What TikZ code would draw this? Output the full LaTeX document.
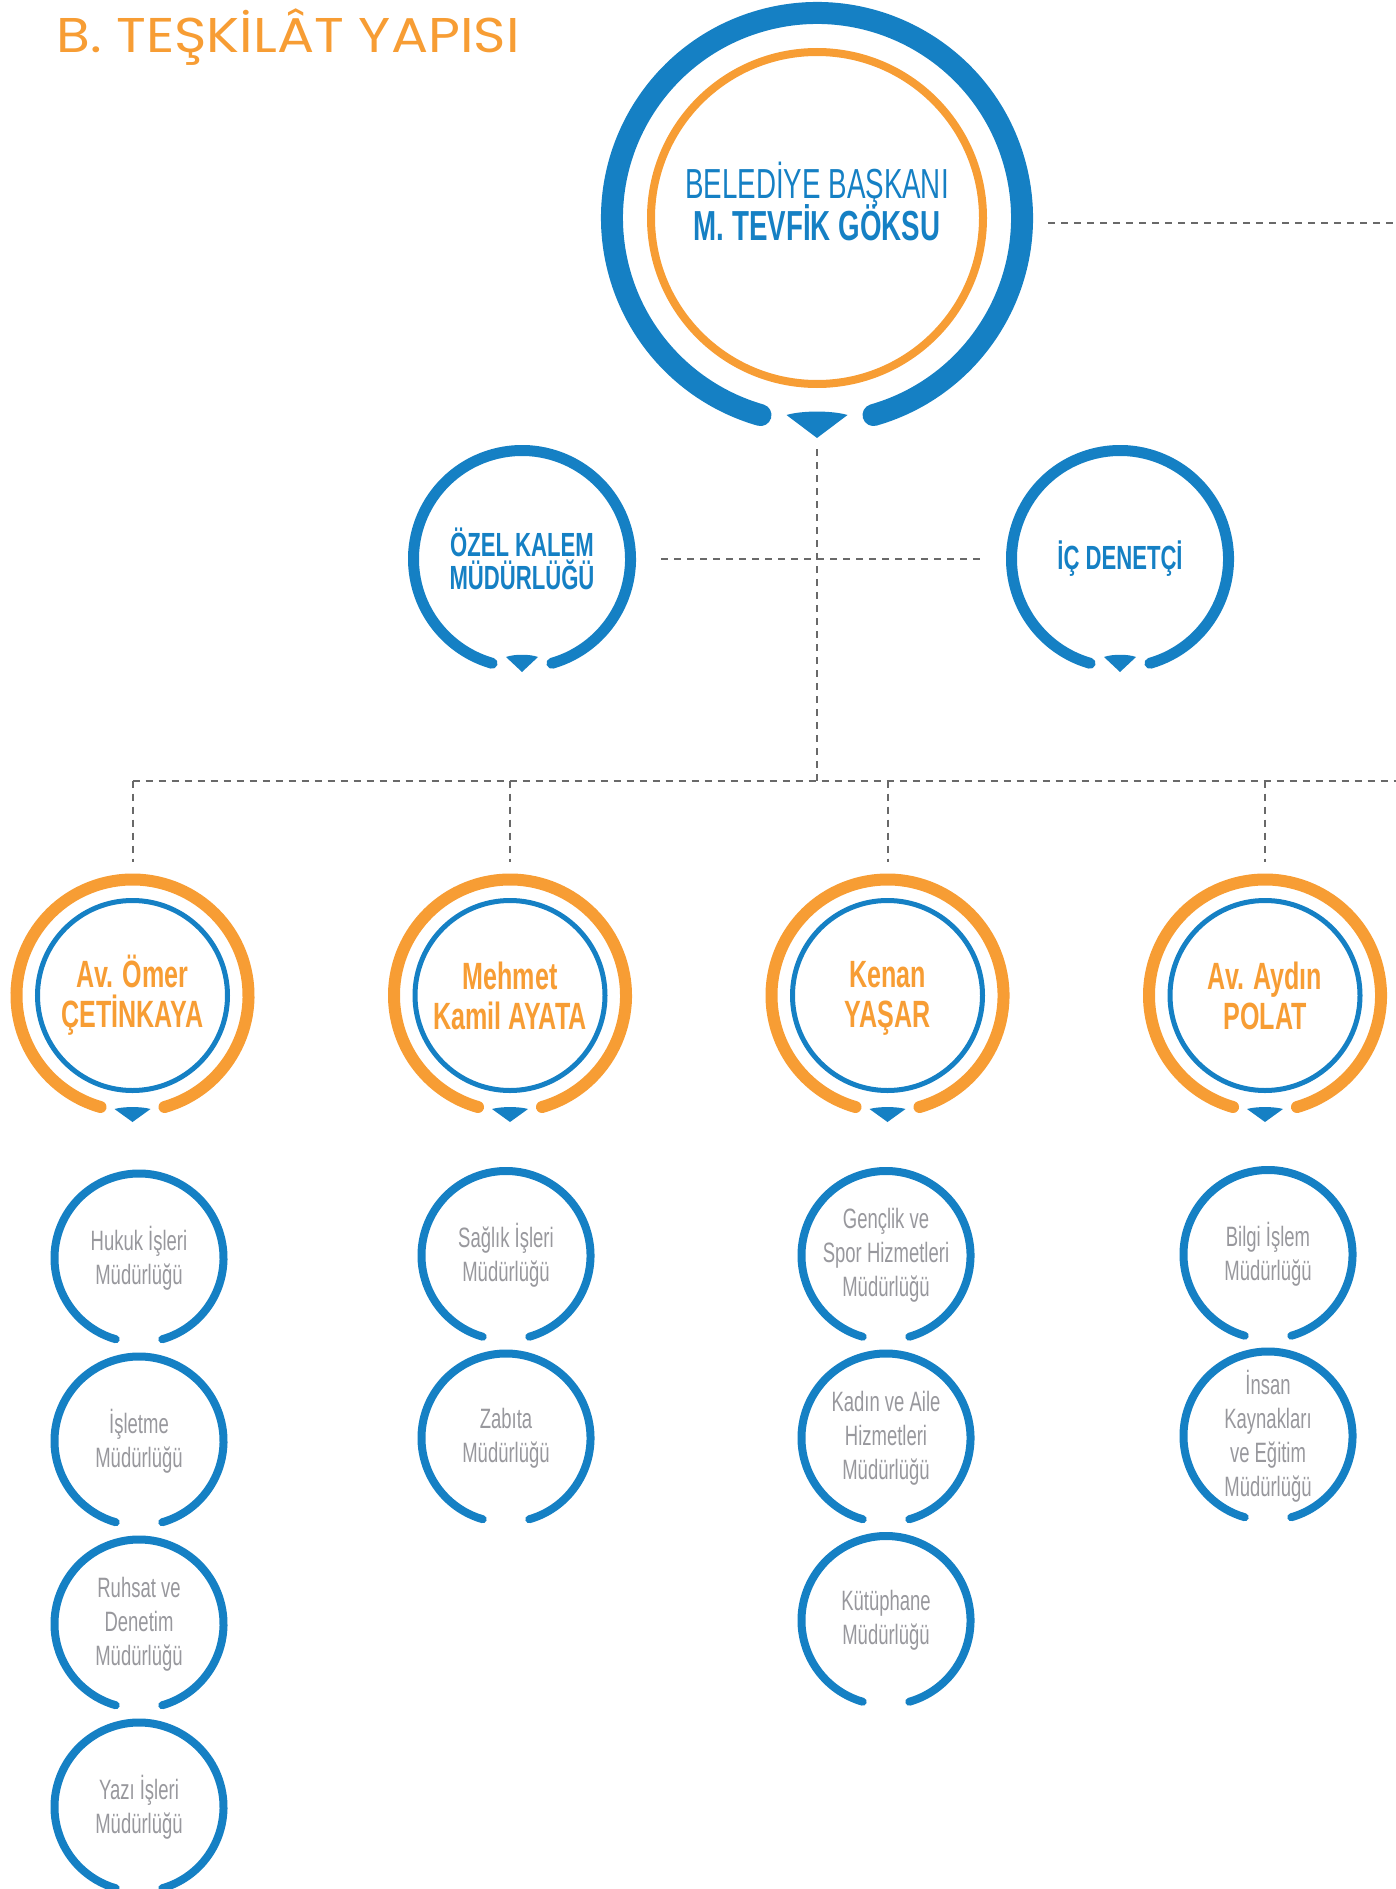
\documentclass[tikz,border=0pt]{standalone}
\usepackage{fontspec}
\setmainfont{Liberation Sans}
\newfontfamily\titlefont[FakeStretch=1.13]{Poppins}
\newfontfamily\narrowfont[FakeStretch=0.66]{Liberation Sans}

\definecolor{ringblue}{RGB}{21,128,196}
\definecolor{ringorange}{RGB}{247,157,52}
\definecolor{unitgrey}{RGB}{152,152,157}
\definecolor{linegrey}{RGB}{105,105,105}

\tikzset{
  headbox/.style={circle, minimum size=432pt, inner sep=0pt, outer sep=15pt, text=ringblue,
    font=\narrowfont\fontsize{42}{43}\selectfont},
  staffbox/.style={circle, minimum size=228pt, inner sep=0pt, outer sep=25pt, text=ringblue,
    font=\narrowfont\bfseries\fontsize{33.5}{33}\selectfont, align=center},
  deputybox/.style={circle, minimum size=244pt, inner sep=0pt, outer sep=12pt, text=ringorange,
    font=\narrowfont\bfseries\fontsize{38}{40}\selectfont, align=center},
  unitbox/.style={circle, minimum size=177pt, inner sep=0pt, text=unitgrey,
    font=\narrowfont\fontsize{28}{34}\selectfont, align=center},
  link/.style={draw=linegrey, line width=2pt, dash pattern=on 7pt off 6pt},
}

% open ring round a node: node, radius, colour, width
\newcommand{\ring}[4]{\draw[#3, line width=#4, line cap=round, shift={(#1.center)}]
  (-74:#2) arc[start angle=-74, end angle=254, radius=#2];}
% little pointer under a ring: node, drop, half width, depth
\newcommand{\notch}[4]{\fill[ringblue, shift={(#1.center)}]
  (-#3,-#2) .. controls (-#3/2,-#2+#4/5) and (#3/2,-#2+#4/5) .. (#3,-#2) -- (0,-#2-#4) -- cycle;}

\begin{document}
\begin{tikzpicture}[x=1pt, y=1pt]
\useasboundingbox (0,0) rectangle (1396,-1889);
% Title
\node[anchor=base west, inner sep=0pt, text=ringorange, font=\titlefont\fontsize{48.8}{50}\selectfont]
  (title) at (56,-53) {B. TEŞKİLÂT YAPISI};

% Mayor
\node[headbox] (mayor) at (817,-218) {\raisebox{10pt}[\height][\depth]{\begin{tabular}{@{}c@{}}
  BELEDİYE BAŞKANI\\[-7pt] \textbf{M. TEVFİK GÖKSU}\end{tabular}}};
\ring{mayor}{205}{ringblue}{22pt}
\draw[ringorange, line width=8pt] (mayor.center) circle[radius=166];
\notch{mayor}{197}{30.5}{23}

% Staff
\node[staffbox] (ozel) at (522,-559) {ÖZEL KALEM\\MÜDÜRLÜĞÜ};
\node[staffbox] (ic) at (1120,-559) {İÇ DENETÇİ};
\ring{ozel}{108.5}{ringblue}{11pt}
\ring{ic}{108.5}{ringblue}{11pt}
\notch{ozel}{98}{16}{15}
\notch{ic}{98}{16}{15}

% Deputies
\node[deputybox] (omer) at (132.5,-995.5) {Av. Ömer\\ÇETİNKAYA};
\node[deputybox] (mehmet) at (510,-995.5) {Mehmet\\Kamil AYATA};
\node[deputybox] (kenan) at (887.5,-995.5) {\vphantom{Ö}Kenan\\YAŞAR};
\node[deputybox] (aydin) at (1265,-995.5) {Av. Aydın\\POLAT};
\ring{omer}{116}{ringorange}{12pt}
\ring{mehmet}{116}{ringorange}{12pt}
\ring{kenan}{116}{ringorange}{12pt}
\ring{aydin}{116}{ringorange}{12pt}
\draw[ringblue, line width=5pt] (omer.center) circle[radius=95];
\draw[ringblue, line width=5pt] (mehmet.center) circle[radius=95];
\draw[ringblue, line width=5pt] (kenan.center) circle[radius=95];
\draw[ringblue, line width=5pt] (aydin.center) circle[radius=95];
\notch{omer}{113.5}{18}{13}
\notch{mehmet}{113.5}{18}{13}
\notch{kenan}{113.5}{18}{13}
\notch{aydin}{113.5}{18}{13}

% Units
\node[unitbox] (hukuk) at (139,-1258) {Hukuk İşleri\\Müdürlüğü};
\node[unitbox] (isletme) at (139,-1441) {İşletme\\Müdürlüğü};
\node[unitbox] (ruhsat) at (139,-1624) {Ruhsat ve\\Denetim\\Müdürlüğü};
\node[unitbox] (yazi) at (139,-1807) {Yazı İşleri\\Müdürlüğü};
\node[unitbox] (saglik) at (506,-1255.5) {Sağlık İşleri\\Müdürlüğü};
\node[unitbox] (zabita) at (506,-1438) {Zabıta\\Müdürlüğü};
\node[unitbox] (genclik) at (886,-1255.5) {Gençlik ve\\Spor Hizmetleri\\Müdürlüğü};
\node[unitbox] (kadin) at (886,-1438) {Kadın ve Aile\\Hizmetleri\\Müdürlüğü};
\node[unitbox] (kutuphane) at (886,-1620.5) {Kütüphane\\Müdürlüğü};
\node[unitbox] (bilgi) at (1268,-1254.5) {Bilgi İşlem\\Müdürlüğü};
\node[unitbox] (insan) at (1268,-1436) {İnsan\\Kaynakları\\ve Eğitim\\Müdürlüğü};
\ring{hukuk}{84.5}{ringblue}{8pt}
\ring{isletme}{84.5}{ringblue}{8pt}
\ring{ruhsat}{84.5}{ringblue}{8pt}
\ring{yazi}{84.5}{ringblue}{8pt}
\ring{saglik}{84.5}{ringblue}{8pt}
\ring{zabita}{84.5}{ringblue}{8pt}
\ring{genclik}{84.5}{ringblue}{8pt}
\ring{kadin}{84.5}{ringblue}{8pt}
\ring{kutuphane}{84.5}{ringblue}{8pt}
\ring{bilgi}{84.5}{ringblue}{8pt}
\ring{insan}{84.5}{ringblue}{8pt}

% Links
\coordinate (busL) at (132.5,-780.5);
\coordinate (busR) at (1396,-780.5);
\coordinate (sideR) at (1396,-223);
\draw[link] ([yshift=-5pt]mayor.east) -- (sideR);
\draw[link] (mayor.south) -- (mayor.south |- busL);
\draw[link] (ozel) -- (ic);
\draw[link] (busL) -- (busR);
\draw[link] (omer.north |- busL) -- (omer.north);
\draw[link] (mehmet.north |- busL) -- (mehmet.north);
\draw[link] (kenan.north |- busL) -- (kenan.north);
\draw[link] (aydin.north |- busL) -- (aydin.north);
\end{tikzpicture}
\end{document}
